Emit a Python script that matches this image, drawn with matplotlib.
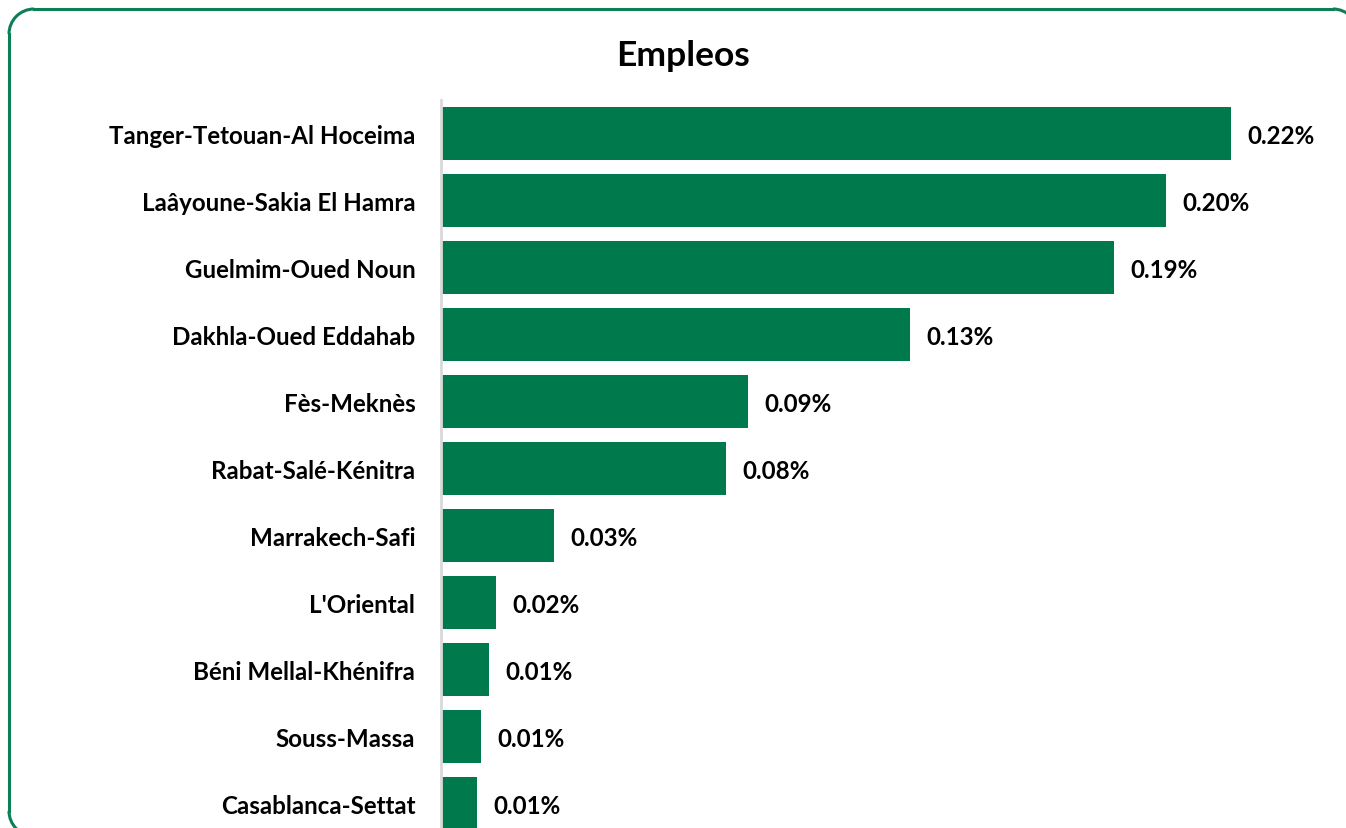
import matplotlib.pyplot as plt
from matplotlib.patches import Arc
from matplotlib.lines import Line2D

plt.rcParams['font.family'] = ['Lato', 'DejaVu Sans']

regions = ['Tanger-Tetouan-Al Hoceima', 'Laâyoune-Sakia El Hamra', 'Guelmim-Oued Noun',
           'Dakhla-Oued Eddahab', 'Fès-Meknès', 'Rabat-Salé-Kénitra', 'Marrakech-Safi',
           "L'Oriental", 'Béni Mellal-Khénifra', 'Souss-Massa', 'Casablanca-Settat']
values = [0.2200, 0.2019, 0.1874, 0.1306, 0.0855, 0.0794, 0.0315, 0.0153, 0.0134, 0.0111, 0.0100]

green = '#007A4D'
frame_col = '#0E7F55'

fig = plt.figure(figsize=(13.46, 8.29), dpi=100)

# rounded frame (inches), cut by the right and bottom edges like the screenshot
x0, x1, y0, y1, r = 0.09, 13.58, -0.08, 8.19, 0.25
tr = fig.dpi_scale_trans
frame_kw = dict(color=frame_col, linewidth=2.2, transform=tr, clip_on=False)
fig.add_artist(Line2D([x0 + r, x1 - r], [y1, y1], **frame_kw))
fig.add_artist(Line2D([x0, x0], [y0 + r, y1 - r], **frame_kw))
fig.add_artist(Line2D([x1, x1], [y0 + r, y1 - r], **frame_kw))
for cx, cy, t1, t2 in [(x0 + r, y1 - r, 90, 180), (x1 - r, y1 - r, 0, 90),
                       (x0 + r, y0 + r, 180, 270)]:
    fig.add_artist(Arc((cx, cy), 2 * r, 2 * r, theta1=t1, theta2=t2,
                       edgecolor=frame_col, linewidth=2.2, transform=tr, clip_on=False))

ax = fig.add_axes([441 / 1346, -9 / 829, 898 / 1346, 737 / 829])
y = range(len(regions))
ax.barh(y, values, height=0.79, color=green)
ax.set_ylim(len(regions) - 0.5, -0.5)
ax.set_xlim(0, 0.25)

for yi, v in zip(y, values):
    ax.text(v + 0.0045, yi + 0.03, f'{v:.2f}%', va='center', ha='left',
            fontsize=17.4, fontweight='bold', color='black')

ax.set_yticks(list(y))
ax.set_yticklabels(regions, fontsize=17.4, fontweight='bold')
ax.tick_params(axis='y', length=0, pad=18.5)
ax.set_xticks([])
for s in ['top', 'right', 'bottom']:
    ax.spines[s].set_visible(False)
ax.spines['left'].set_color('#D9D9D9')
ax.spines['left'].set_linewidth(2)

fig.text(683 / 1346, 1 - 56 / 829, 'Empleos', ha='center', va='center',
         fontsize=25.5, fontweight='bold')

fig.savefig('out.png', dpi=100)
